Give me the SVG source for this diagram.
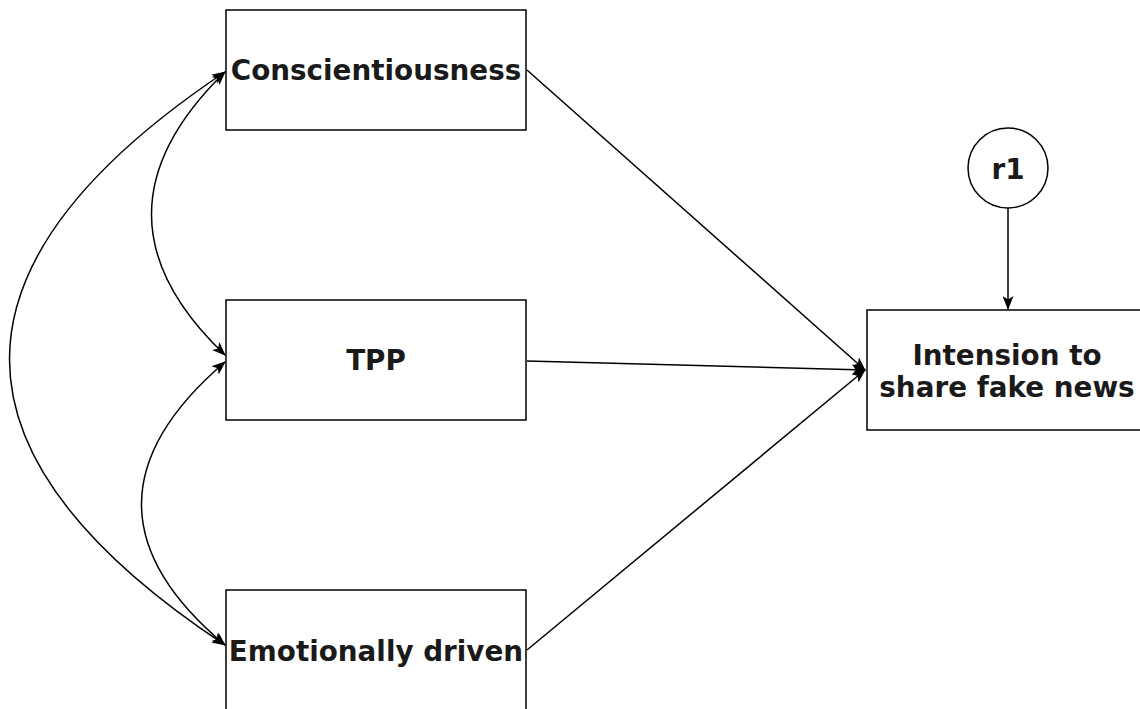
<svg xmlns="http://www.w3.org/2000/svg" width="1140" height="709" viewBox="0 0 1140 709">
  <style>
    .box { fill: #ffffff; stroke: #000000; stroke-width: 1.5; }
    .lbl { font-family: "DejaVu Sans", Verdana, sans-serif; font-weight: bold; font-size: 27.8px; fill: #1a1a1a; text-anchor: middle; dominant-baseline: central; }
    .edge { fill: none; stroke: #000000; stroke-width: 1.5; }
  </style>
  <defs>
    <marker id="arrow" viewBox="0 0 14 11" refX="13" refY="5.5" markerWidth="14" markerHeight="11" markerUnits="userSpaceOnUse" orient="auto-start-reverse">
      <path d="M0,0 L14,5.5 L0,11 L3.5,5.5 Z" fill="#000000"/>
    </marker>
  </defs>
  <rect width="1140" height="709" fill="#ffffff"/>

  <g id="connectors">
    <!-- covariances between the predictors -->
    <path class="edge" d="M225,72 Q78,215 225,355" marker-start="url(#arrow)" marker-end="url(#arrow)"/>
    <path class="edge" d="M225,362 Q58,505 225,645" marker-start="url(#arrow)" marker-end="url(#arrow)"/>
    <path class="edge" d="M225,72 Q-206,360 225,645" marker-start="url(#arrow)" marker-end="url(#arrow)"/>
    <!-- paths to the outcome -->
    <path class="edge" d="M527,70 L865,370" marker-end="url(#arrow)"/>
    <path class="edge" d="M527,361 L865,370" marker-end="url(#arrow)"/>
    <path class="edge" d="M527,650 L865,370" marker-end="url(#arrow)"/>
    <!-- residual -->
    <path class="edge" d="M1008,208 L1008,309" marker-end="url(#arrow)"/>
  </g>

  <g id="conscientiousness">
    <rect class="box" x="226" y="10" width="300" height="120"/>
    <text class="lbl" x="376" y="70">Conscientiousness</text>
  </g>
  <g id="tpp">
    <rect class="box" x="226" y="300" width="300" height="120"/>
    <text class="lbl" x="376" y="360">TPP</text>
  </g>
  <g id="emotionally-driven">
    <rect class="box" x="226" y="590" width="300" height="130"/>
    <text class="lbl" x="376" y="651">Emotionally driven</text>
  </g>
  <g id="intension">
    <rect class="box" x="867" y="310" width="290" height="120"/>
    <text class="lbl" x="1007" y="355">Intension to</text>
    <text class="lbl" x="1007" y="387">share fake news</text>
  </g>
  <g id="r1">
    <circle class="box" cx="1008" cy="168" r="40"/>
    <text class="lbl" x="1008" y="169">r1</text>
  </g>
</svg>
